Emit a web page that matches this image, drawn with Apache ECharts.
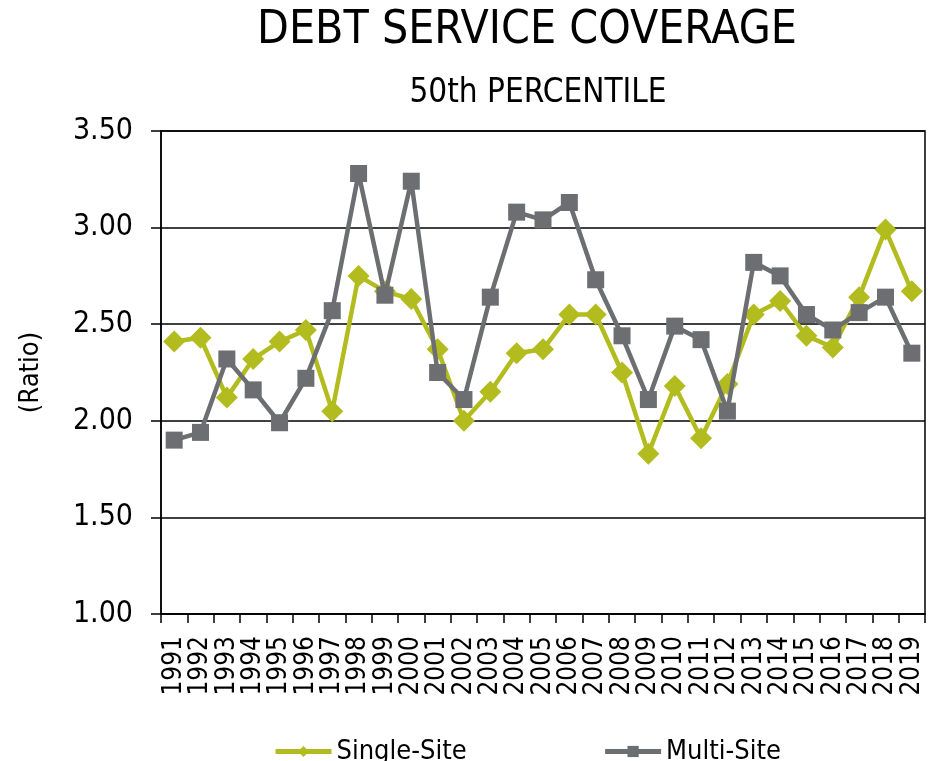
<!DOCTYPE html>
<html><head><meta charset="utf-8">
<script src="https://cdn.jsdelivr.net/npm/echarts@6/dist/echarts.min.js"></script>
<style>html,body{margin:0;padding:0;background:#fff}#c{width:928px;height:761px}</style>
</head><body><div id="c"></div>
<script>
const years = ['1991','1992','1993','1994','1995','1996','1997','1998','1999','2000','2001','2002','2003','2004','2005','2006','2007','2008','2009','2010','2011','2012','2013','2014','2015','2016','2017','2018','2019'];
const singleSite = [2.41,2.43,2.12,2.32,2.41,2.47,2.05,2.75,2.67,2.63,2.37,2.00,2.15,2.35,2.37,2.55,2.55,2.25,1.83,2.18,1.91,2.19,2.55,2.62,2.44,2.38,2.64,2.99,2.67];
const multiSite = [1.90,1.94,2.32,2.16,1.99,2.22,2.57,3.28,2.65,3.24,2.25,2.11,2.64,3.08,3.04,3.13,2.73,2.44,2.11,2.49,2.42,2.05,2.82,2.75,2.55,2.47,2.56,2.64,2.35];
const yTicks = [1.0, 1.5, 2.0, 2.5, 3.0, 3.5];

const FONT = '"DejaVu Sans Condensed", "DejaVu Sans", sans-serif';
const GREEN = '#b3bc1e', GRAY = '#6d6e71';
const chart = echarts.init(document.getElementById('c'));
chart.setOption({
  animation: false,
  title: [
    {text: 'DEBT SERVICE COVERAGE', left: 522, textAlign: 'center', top: 3,
     textStyle: {fontFamily: FONT, fontSize: 46, fontWeight: 'normal', color: '#000'}},
    {text: '50th PERCENTILE', left: 533, textAlign: 'center', top: 72,
     textStyle: {fontFamily: FONT, fontSize: 33, fontWeight: 'normal', color: '#000'}}
  ],
  grid: {left: 161, right: 3, top: 131, bottom: 147, show: true, borderColor: '#000', borderWidth: 1.5},
  legend: {
    top: 733, left: 268, itemGap: 136, itemWidth: 56, itemHeight: 14,
    textStyle: {fontFamily: FONT, fontSize: 27, color: '#000'},
    lineStyle: {width: 5},
    data: ['Single-Site', 'Multi-Site']
  },
  xAxis: {
    type: 'category', data: years, boundaryGap: true,
    axisLine: {lineStyle: {color: '#000', width: 1.5}},
    axisTick: {show: true, alignWithLabel: false, length: 9, lineStyle: {color: '#000', width: 1.5}},
    axisLabel: {rotate: 90, interval: 0, fontFamily: FONT, fontSize: 26, color: '#000', margin: 22}
  },
  yAxis: {
    type: 'value', min: 1, max: 3.5, interval: 0.5,
    name: '(Ratio)', nameLocation: 'middle', nameGap: 117, nameRotate: 90,
    nameTextStyle: {fontFamily: FONT, fontSize: 27, color: '#000'},
    axisLine: {show: true, lineStyle: {color: '#000', width: 1.5}},
    axisTick: {show: true, length: 10, lineStyle: {color: '#000', width: 1.5}},
    axisLabel: {fontFamily: FONT, fontSize: 30, color: '#000', margin: 28,
      formatter: v => v.toFixed(2)},
    splitLine: {lineStyle: {color: '#000', width: 1.5}}
  },
  series: [
    {name: 'Single-Site', type: 'line', data: singleSite, symbol: 'diamond', symbolSize: 22,
     itemStyle: {color: GREEN}, lineStyle: {color: GREEN, width: 4.5}, z: 2},
    {name: 'Multi-Site', type: 'line', data: multiSite, symbol: 'rect', symbolSize: 17,
     itemStyle: {color: GRAY}, lineStyle: {color: GRAY, width: 4.5}, z: 3}
  ]
});
</script></body></html>
